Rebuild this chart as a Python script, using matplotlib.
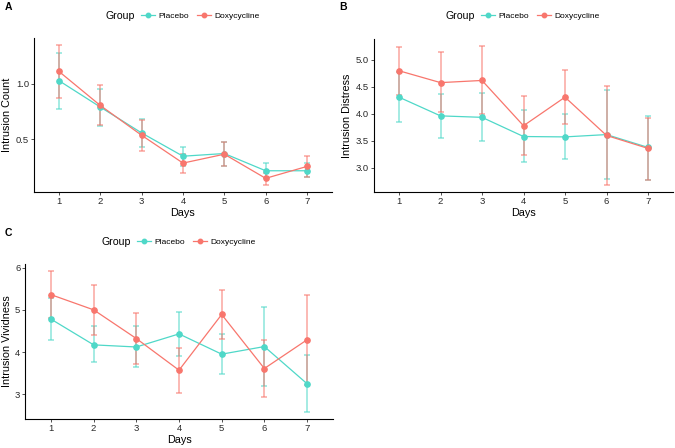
import numpy as np
import matplotlib
matplotlib.use("Agg")
import matplotlib.pyplot as plt
from matplotlib.lines import Line2D

plt.rcParams['font.family'] = ['Liberation Sans', 'DejaVu Sans']

# Tage
days = [1, 2, 3, 4, 5, 6, 7]

# A: Intrusion Count
count_plac = [1.027, 0.79, 0.557, 0.348, 0.372, 0.217, 0.217]
count_plac_lo = [0.774, 0.622, 0.435, 0.259, 0.262, 0.152, 0.158]
count_plac_hi = [1.277, 0.949, 0.679, 0.435, 0.476, 0.283, 0.286]
count_doxy = [1.110, 0.804, 0.536, 0.286, 0.366, 0.149, 0.256]
count_doxy_lo = [0.872, 0.625, 0.399, 0.199, 0.256, 0.089, 0.164]
count_doxy_hi = [1.348, 0.988, 0.673, 0.369, 0.479, 0.196, 0.348]

# B: Intrusion Distress
dist_plac = [4.31, 3.963, 3.936, 3.58, 3.573, 3.616, 3.378]
dist_plac_lo = [3.85, 3.56, 3.49, 3.10, 3.16, 2.80, 2.78]
dist_plac_hi = [4.77, 4.36, 4.38, 4.07, 4.00, 4.45, 3.97]
dist_doxy = [4.80, 4.58, 4.62, 3.78, 4.31, 3.60, 3.36]
dist_doxy_lo = [4.35, 4.03, 4.00, 3.23, 3.81, 2.68, 2.78]
dist_doxy_hi = [5.24, 5.14, 5.26, 4.33, 4.82, 4.52, 3.93]

# C: Intrusion Vividness
viv_plac = [4.78, 4.17, 4.12, 4.43, 3.95, 4.13, 3.25]
viv_plac_lo = [4.29, 3.77, 3.64, 3.90, 3.48, 3.20, 2.58]
viv_plac_hi = [5.27, 4.61, 4.61, 4.95, 4.43, 5.07, 3.93]
viv_doxy = [5.36, 5.00, 4.32, 3.57, 4.89, 3.61, 4.29]
viv_doxy_lo = [4.80, 4.41, 3.72, 3.03, 4.31, 2.93, 3.23]
viv_doxy_hi = [5.92, 5.59, 4.92, 4.09, 5.46, 4.28, 5.35]

groups = ["Placebo", "Doxycycline"]
farben = ["#4FD8C8", "#F8766D"]

W, H = 675, 448
fig = plt.figure(figsize=(W / 100, H / 100), dpi=100)


def panel(top, bottom, ppu, first_tick, serien, ylabel, yticks, ytl, letter, letter_xy, leg_x, leg_y):
    left = first_tick - 0.6 * ppu
    width = 7.2 * ppu
    ax = fig.add_axes([left / W, 1 - bottom / H, width / W, (bottom - top) / H])
    alle = []
    for (m, lo, hi), c in zip(serien, farben):
        m, lo, hi = np.array(m), np.array(lo), np.array(hi)
        ax.errorbar(days, m, yerr=[m - lo, hi - m], fmt="none", ecolor=c,
                    elinewidth=1.1, capsize=2.2, capthick=1.1, alpha=0.65, zorder=2)
        ax.plot(days, m, color=c, lw=0.9, marker="o", ms=3.8, zorder=3)
        alle += list(lo) + list(hi)
    lo_, hi_ = min(alle), max(alle)
    pad = 0.05 * (hi_ - lo_)
    ax.set_ylim(lo_ - pad, hi_ + pad)
    ax.set_xlim(0.4, 7.6)
    ax.set_xticks(days)
    ax.set_yticks(yticks)
    ax.set_yticklabels(ytl)
    for s in ["top", "right"]:
        ax.spines[s].set_visible(False)
    for s in ["left", "bottom"]:
        ax.spines[s].set_linewidth(0.8)
        ax.spines[s].set_color("black")
    ax.tick_params(length=2.2, width=0.6, color="#333333", labelsize=6.8,
                   labelcolor="#2a2a2a", pad=1.5)
    ax.set_xlabel("Days", fontsize=7.8, labelpad=1.5)
    ax.set_ylabel(ylabel, fontsize=7.8, labelpad=2.5)
    fig.text(letter_xy[0] / W, 1 - letter_xy[1] / H, letter, fontsize=7.5,
             fontweight="bold", va="center", ha="left")
    # Legende oben
    fig.text(leg_x / W, 1 - leg_y / H, "Group", fontsize=7.6, va="center", ha="left")
    handles = [Line2D([], [], color=c, lw=0.9, marker="o", ms=3.2) for c in farben]
    fig.legend(handles, groups, loc="center left",
               bbox_to_anchor=((leg_x + 35) / W, 1 - leg_y / H), ncol=2,
               frameon=False, fontsize=6.0, handlelength=1.7, handletextpad=0.4,
               columnspacing=0.9, borderpad=0, borderaxespad=0)
    return ax


panel(38, 192, 41.33, 59,
      [(count_plac, count_plac_lo, count_plac_hi), (count_doxy, count_doxy_lo, count_doxy_hi)],
      "Intrusion Count", [0.5, 1.0], ["0.5", "1.0"], "A", (5, 7), 106, 16)
panel(39, 192, 41.5, 399,
      [(dist_plac, dist_plac_lo, dist_plac_hi), (dist_doxy, dist_doxy_lo, dist_doxy_hi)],
      "Intrusion Distress", [3.0, 3.5, 4.0, 4.5, 5.0], ["3.0", "3.5", "4.0", "4.5", "5.0"],
      "B", (339, 7), 446, 16)
panel(264, 419, 42.67, 51,
      [(viv_plac, viv_plac_lo, viv_plac_hi), (viv_doxy, viv_doxy_lo, viv_doxy_hi)],
      "Intrusion Vividness", [3, 4, 5, 6], ["3", "4", "5", "6"], "C", (5, 233), 102, 242)

fig.savefig("out.png", dpi=100)
